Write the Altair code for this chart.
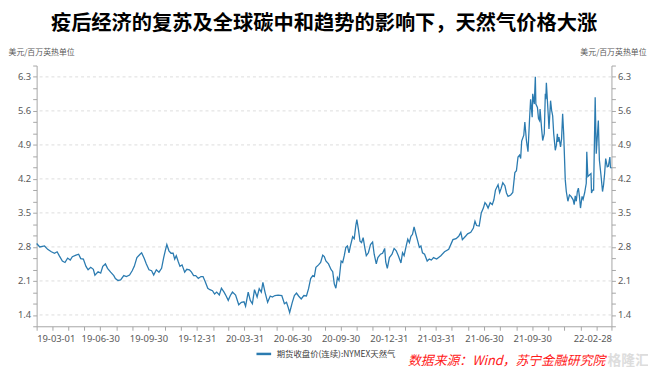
import altair as alt
import pandas as pd

TITLE = "疫后经济的复苏及全球碳中和趋势的影响下，天然气价格大涨"
UNIT = "美元/百万英热单位"
SERIES = "期货收盘价(连续):NYMEX天然气"
SOURCE = "数据来源：Wind，苏宁金融研究院"
WATERMARK = "格隆汇"

START = "2019-03-01"
END = "2022-02-28"

# days since 2019-03-01
DAY_OFFSETS = [
    0, 6, 15, 21, 28, 34, 39, 43, 49, 54, 59, 64, 68, 75, 80, 84, 89, 94, 98, 103,
    108, 111, 117, 122, 126, 131, 135, 141, 147, 150, 155, 160, 166, 171, 177, 182, 186, 191, 197, 200,
    205, 209, 214, 219, 223, 228, 233, 238, 242, 245, 248, 252, 256, 260, 263, 266, 270, 273, 277, 282,
    286, 291, 295, 299, 303, 308, 313, 317, 321, 326, 330, 335, 339, 343, 348, 352, 357, 361, 365, 369,
    373, 379, 385, 390, 395, 398, 403, 407, 411, 415, 420, 424, 428, 431, 435, 440, 445, 449, 454, 460,
    467, 472, 476, 479, 482, 487, 491, 495, 499, 504, 509, 514, 518, 522, 526, 529, 532, 537, 541, 545,
    548, 551, 556, 561, 564, 567, 570, 573, 576, 580, 583, 586, 589, 592, 595, 598, 602, 605, 608, 610,
    613, 616, 619, 622, 625, 628, 632, 636, 640, 643, 647, 650, 655, 659, 663, 665, 668, 672, 677, 681,
    685, 689, 694, 697, 700, 704, 707, 710, 713, 716, 719, 723, 726, 729, 732, 735, 739, 744, 748, 752,
    756, 762, 770, 777, 785, 793, 799, 804, 808, 811, 817, 821, 827, 832, 835, 838, 843, 847, 851, 854,
    857, 860, 864, 868, 871, 874, 879, 882, 885, 888, 892, 895, 898, 903, 907, 911, 914, 917, 920, 922,
    924, 928, 930, 933, 936, 939, 941, 944, 945, 948, 950, 951, 954, 956, 958, 959, 962, 964, 967, 969,
    970, 971, 973, 975, 976, 979, 981, 983, 985, 988, 990, 992, 993, 995, 998, 1000, 1002, 1004, 1007, 1009,
    1012, 1015, 1018, 1022, 1024, 1026, 1028, 1030, 1032, 1034, 1036, 1039, 1041, 1044, 1047, 1048, 1050, 1053, 1056, 1057,
    1059, 1061, 1064, 1066, 1067, 1070, 1072, 1075, 1078, 1080, 1082, 1084, 1087, 1089, 1092, 1093, 1095,
]
PRICES = [
    2.87, 2.80, 2.82, 2.75, 2.70, 2.67, 2.70, 2.62, 2.51, 2.48, 2.57, 2.53, 2.60, 2.63, 2.65, 2.56, 2.55, 2.40, 2.33, 2.38,
    2.34, 2.22, 2.29, 2.26, 2.40, 2.45, 2.36, 2.28, 2.21, 2.15, 2.11, 2.12, 2.21, 2.19, 2.22, 2.31, 2.40, 2.58, 2.65, 2.68,
    2.56, 2.45, 2.33, 2.31, 2.22, 2.33, 2.28, 2.36, 2.58, 2.72, 2.85, 2.72, 2.67, 2.67, 2.55, 2.62, 2.49, 2.40, 2.43, 2.28,
    2.34, 2.33, 2.28, 2.21, 2.21, 2.15, 2.19, 2.19, 2.09, 1.95, 1.92, 1.90, 1.83, 1.87, 1.81, 1.95, 1.87, 1.79, 1.70, 1.80,
    1.87, 1.81, 1.61, 1.66, 1.67, 1.58, 1.87, 1.70, 1.63, 1.92, 1.77, 1.94, 1.87, 2.07, 1.87, 1.66, 1.79, 1.77, 1.80, 1.81,
    1.80, 1.63, 1.66, 1.56, 1.45, 1.66, 1.80, 1.85, 1.79, 1.73, 1.80, 1.79, 1.94, 2.15, 2.21, 2.19, 2.38, 2.43, 2.48, 2.63,
    2.60, 2.51, 2.45, 2.33, 2.29, 2.04, 1.95, 2.17, 2.11, 2.51, 2.48, 2.62, 2.79, 2.82, 2.68, 2.83, 3.01, 2.97, 3.24, 3.36,
    3.16, 2.92, 2.89, 2.99, 2.79, 2.62, 2.68, 2.85, 2.90, 2.65, 2.45, 2.58, 2.65, 2.67, 2.77, 2.49, 2.36, 2.58, 2.65, 2.77,
    2.72, 2.62, 2.47, 2.68, 2.62, 2.82, 2.96, 2.89, 3.02, 3.06, 3.21, 3.04, 2.92, 2.79, 2.82, 2.68, 2.65, 2.51, 2.55, 2.53,
    2.58, 2.55, 2.62, 2.70, 2.75, 2.95, 2.97, 3.02, 3.10, 2.95, 3.02, 3.07, 3.10, 3.19, 3.33, 3.24, 3.23, 3.50, 3.60, 3.71,
    3.67, 3.60, 3.71, 3.67, 3.77, 3.97, 4.08, 3.92, 4.01, 4.12, 4.06, 3.91, 3.84, 3.87, 3.92, 4.33, 4.37, 4.65, 4.69, 4.62,
    4.98, 5.10, 5.37, 4.99, 4.76, 5.44, 5.84, 5.47, 5.95, 5.74, 6.30, 5.74, 5.67, 5.44, 5.40, 5.64, 5.23, 4.99, 5.13, 5.95,
    5.84, 6.18, 5.81, 5.44, 5.23, 5.81, 5.61, 5.50, 5.13, 4.79, 4.89, 5.13, 4.96, 5.06, 4.86, 5.03, 5.54, 5.13, 4.18, 3.94,
    3.74, 3.87, 3.84, 3.77, 3.67, 3.85, 3.74, 3.94, 4.01, 3.84, 3.60, 3.84, 3.78, 3.92, 4.11, 4.76, 4.25, 4.28, 4.31, 3.91,
    3.97, 3.97, 5.88, 4.72, 4.89, 5.40, 4.59, 4.28, 3.94, 4.08, 4.31, 4.62, 4.45, 4.46, 4.65, 4.44, 4.42,
]

Y_LABELS = [1.4, 2.1, 2.8, 3.5, 4.2, 4.9, 5.6, 6.3]
Y_STEP = 0.7 / 3
X_LABELS = ["19-03-01", "19-06-30", "19-09-30", "19-12-31", "20-03-31", "20-06-30",
            "20-09-30", "20-12-31", "21-03-31", "21-06-30", "21-09-30", "22-02-28"]

LINE_COLOR = "#2b7bb0"
AXIS_COLOR = "#a6a6a6"
LABEL_COLOR = "#595959"
CJK = "Noto Sans CJK SC"

dates = pd.Timestamp(START) + pd.to_timedelta(DAY_OFFSETS, unit="D")
df = pd.DataFrame({"date": dates.strftime("%Y-%m-%d"), "price": PRICES, "series": SERIES})

y_ticks = [round(Y_LABELS[0] - Y_STEP + i * Y_STEP, 4) for i in range(24)]
y_domain = [Y_LABELS[0] - Y_STEP, Y_LABELS[-1] + Y_STEP]
yscale = alt.Scale(domain=y_domain, nice=False, zero=False)

def dt(ts):
    return alt.DateTime(year=ts.year, month=ts.month, date=ts.day, utc=True)

month_ends = [pd.Timestamp(START)] + list(pd.date_range(START, END, freq="ME")) + [pd.Timestamp(END)]
x_tick_values = [dt(t) for t in month_ends]
xscale = alt.Scale(type="utc", domain=[dt(pd.Timestamp(START)), dt(pd.Timestamp(END))], nice=False)

x_label_list = "[" + ",".join("'%s'" % s for s in X_LABELS) + "]"
x_axis = alt.Axis(
    values=x_tick_values, labelOverlap=False, grid=False,
    labelExpr="indexof(%s, utcFormat(datum.value, '%%y-%%m-%%d')) >= 0 ? utcFormat(datum.value, '%%y-%%m-%%d') : ''" % x_label_list,
    tickSize=4, labelPadding=3, title=None,
)
y_label_list = "[" + ",".join("'%.1f'" % v for v in Y_LABELS) + "]"
y_label_expr = "indexof(%s, format(datum.value, '.1f')) >= 0 ? format(datum.value, '.1f') : ''" % y_label_list

def y_axis(orient, title_x):
    return alt.Axis(
        orient=orient, values=y_ticks, labelExpr=y_label_expr, grid=False,
        labelOverlap=False, tickSize=4, labelPadding=2,
        title=UNIT, titleAngle=0, titleX=title_x, titleY=-13, titleAlign="left",
        titleBaseline="middle", titleFontSize=8, titleFontWeight="normal",
        titleColor=LABEL_COLOR, titleFont=CJK,
    )

grid = alt.Chart(pd.DataFrame({"v": Y_LABELS})).mark_rule(
    color="#dcdcdc", strokeDash=[3, 3], strokeWidth=1
).encode(y=alt.Y("v:Q", scale=yscale, axis=None))

line = alt.Chart(df).mark_line(strokeWidth=1.3).encode(
    x=alt.X("date:T", scale=xscale, axis=x_axis),
    y=alt.Y("price:Q", scale=yscale, axis=y_axis("left", -29)),
    color=alt.Color("series:N", scale=alt.Scale(range=[LINE_COLOR]),
                    legend=alt.Legend(orient="none", legendX=221, legendY=283, title=None,
                                      symbolType="stroke", symbolStrokeWidth=2.5, symbolSize=220,
                                      labelFont=CJK, labelFontSize=8.5, labelColor="#404040")),
)

right = alt.Chart(df).mark_line(opacity=0).encode(
    x=alt.X("date:T", scale=xscale, axis=x_axis),
    y=alt.Y("price:Q", scale=yscale, axis=y_axis("right", -32)),
)

title = alt.Chart(pd.DataFrame({"t": [TITLE]})).mark_text(
    font=CJK, fontSize=20.5, fontWeight="bold", color="#000000", align="center", baseline="middle"
).encode(text="t:N", x=alt.value(291), y=alt.value(-42))

source = alt.Chart(pd.DataFrame({"t": [SOURCE]})).mark_text(
    font=CJK, fontSize=13, fontStyle="italic", color="#ff1a1a", align="left", baseline="middle"
).encode(text="t:N", x=alt.value(376), y=alt.value(299))

mark = alt.Chart(pd.DataFrame({"t": [WATERMARK]})).mark_text(
    font=CJK, fontSize=14, fontWeight="bold", color="#c8c8c8", opacity=0.6, align="left", baseline="middle"
).encode(text="t:N", x=alt.value(578), y=alt.value(299))

chart = alt.layer(grid, line, right, title, source, mark).resolve_axis(y="independent").properties(
    width=582, height=264,
    padding={"left": 29, "top": 56, "right": 37, "bottom": 42},
    autosize=alt.AutoSizeParams(type="none"),
).configure_view(stroke=None).configure_axis(
    domainColor=AXIS_COLOR, tickColor=AXIS_COLOR, labelColor=LABEL_COLOR,
    labelFont="Noto Sans", labelFontSize=9.5,
)

chart.save("out.html", embed_options={"renderer": "svg", "actions": False})
